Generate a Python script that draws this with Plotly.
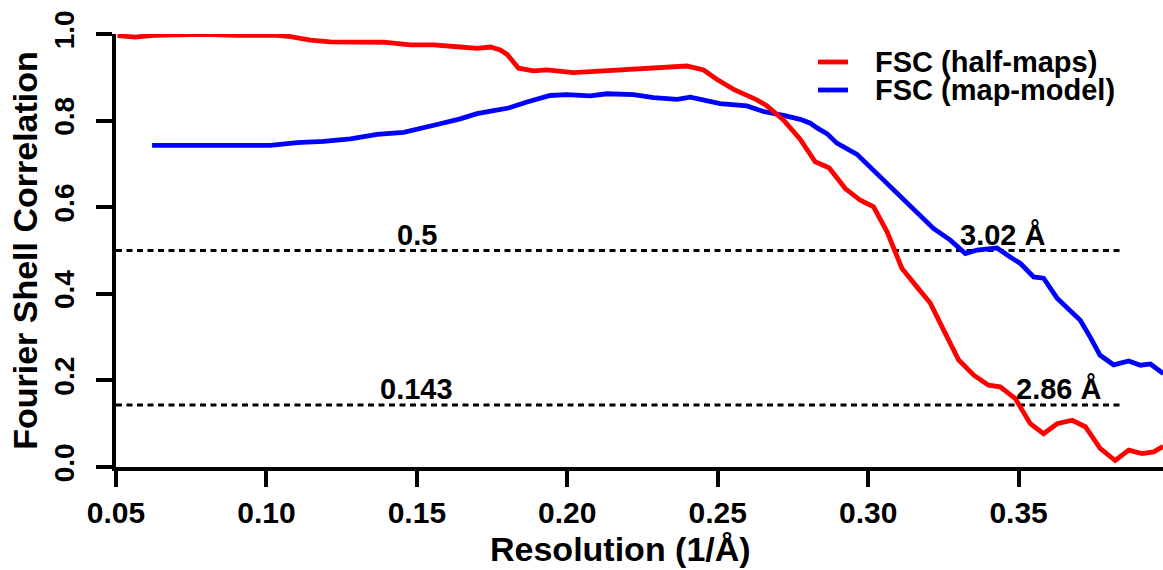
import plotly.graph_objects as go

# ---- data ----
half_x = [0.0505, 0.0564, 0.0625, 0.0700, 0.0791, 0.0902, 0.1035, 0.1080, 0.1146, 0.1212,
          0.1390, 0.1478, 0.1556, 0.1644, 0.1700, 0.1744, 0.1777, 0.1800, 0.1838, 0.1888,
          0.1932, 0.2021, 0.2110, 0.2220, 0.2320, 0.2398, 0.2453, 0.2498, 0.2553, 0.2630,
          0.2664, 0.2719, 0.2774, 0.2824, 0.2870, 0.2924, 0.2974, 0.3018, 0.3063, 0.3112,
          0.3162, 0.3207, 0.3251, 0.3301, 0.3351, 0.3400, 0.3439, 0.3489, 0.3539, 0.3583,
          0.3628, 0.3678, 0.3722, 0.3771, 0.3821, 0.3866, 0.3910, 0.3949, 0.3981]
half_y = [0.996, 0.993, 0.997, 0.998, 0.999, 0.997, 0.997, 0.994, 0.986, 0.982,
          0.981, 0.975, 0.975, 0.970, 0.967, 0.970, 0.963, 0.953, 0.921, 0.915,
          0.917, 0.911, 0.915, 0.919, 0.925, 0.926, 0.917, 0.895, 0.872, 0.848,
          0.834, 0.801, 0.757, 0.705, 0.691, 0.643, 0.616, 0.601, 0.543, 0.459,
          0.416, 0.378, 0.316, 0.247, 0.212, 0.189, 0.185, 0.158, 0.100, 0.077,
          0.100, 0.108, 0.093, 0.043, 0.015, 0.039, 0.031, 0.035, 0.048]

model_x = [0.0620, 0.0703, 0.0813, 0.1013, 0.1102, 0.1190, 0.1279, 0.1368, 0.1456, 0.1511,
           0.1567, 0.1644, 0.1700, 0.1755, 0.1805, 0.1866, 0.1910, 0.1943, 0.1999, 0.2076,
           0.2132, 0.2220, 0.2287, 0.2365, 0.2409, 0.2464, 0.2508, 0.2597, 0.2652, 0.2719,
           0.2774, 0.2808, 0.2830, 0.2863, 0.2896, 0.2963, 0.3029, 0.3096, 0.3162, 0.3217,
           0.3273, 0.3323, 0.3362, 0.3428, 0.3472, 0.3506, 0.3550, 0.3583, 0.3628, 0.3672,
           0.3705, 0.3738, 0.3771, 0.3816, 0.3866, 0.3905, 0.3938, 0.3981]
model_y = [0.743, 0.743, 0.741, 0.743, 0.749, 0.752, 0.758, 0.768, 0.773, 0.781,
           0.791, 0.804, 0.816, 0.823, 0.829, 0.843, 0.851, 0.858, 0.860, 0.857,
           0.862, 0.860, 0.853, 0.849, 0.854, 0.847, 0.839, 0.834, 0.821, 0.812,
           0.803, 0.794, 0.783, 0.770, 0.748, 0.722, 0.678, 0.632, 0.586, 0.551,
           0.524, 0.493, 0.501, 0.506, 0.485, 0.470, 0.439, 0.436, 0.390, 0.362,
           0.339, 0.300, 0.258, 0.236, 0.245, 0.235, 0.238, 0.216]

thresholds = [0.5, 0.143]
threshold_labels = ["0.5", "0.143"]
threshold_x_range = [0.05, 0.385]
threshold_label_x = 0.15
resolutions = [3.02, 2.86]          # Å, label placed at 1/resolution
resolution_labels = ["3.02 Å", "2.86 Å"]

x_ticks = [0.05, 0.10, 0.15, 0.20, 0.25, 0.30, 0.35]
y_ticks = [0.0, 0.2, 0.4, 0.6, 0.8, 1.0]
series_names = ["FSC (half-maps)", "FSC (map-model)"]
series_colors = ["#ff0000", "#0000ff"]
x_title = "Resolution (1/Å)"
y_title = "Fourier Shell Correlation"

FONT = "Liberation Sans, Arial, Helvetica, sans-serif"
def bfont(size):
    return dict(family=FONT, size=size, color="black", weight="bold")

fig = go.Figure()

for t in thresholds:
    fig.add_trace(go.Scatter(x=threshold_x_range, y=[t, t], mode="lines",
                             line=dict(color="black", width=3, dash="6px,4.5px"),
                             showlegend=False, hoverinfo="skip"))

fig.add_trace(go.Scatter(x=model_x, y=model_y, mode="lines", name=series_names[1],
                         line=dict(color=series_colors[1], width=4.8), showlegend=False))
fig.add_trace(go.Scatter(x=half_x, y=half_y, mode="lines", name=series_names[0],
                         line=dict(color=series_colors[0], width=4.8), showlegend=False))

annotations = []
for t, lab in zip(thresholds, threshold_labels):
    annotations.append(dict(x=threshold_label_x, y=t, xref="x", yref="y", text=lab,
                            showarrow=False, xanchor="center", yanchor="bottom",
                            yshift=-2, font=bfont(29)))
for t, r, lab in zip(thresholds, resolutions, resolution_labels):
    annotations.append(dict(x=1.0 / r, y=t, xref="x", yref="y", text=lab,
                            showarrow=False, xanchor="left", yanchor="bottom",
                            xshift=-4, yshift=-2, font=bfont(29)))

# pixel -> paper helpers
W, H = 1163, 570
ml, mr, mt, mb = 116, 0, 34, 103
pw, ph = W - ml - mr, H - mt - mb
def px(xp):
    return (xp - ml) / pw
def py(yp):
    return 1 - (yp - mt) / ph

# legend (drawn as sample lines + labels, R style)
shapes = []
leg_rows = [62, 90]
for name, col, yr in zip(series_names, series_colors, leg_rows):
    shapes.append(dict(type="line", xref="paper", yref="paper",
                       x0=px(818), x1=px(848), y0=py(yr), y1=py(yr),
                       line=dict(color=col, width=4.8)))
    annotations.append(dict(x=px(873), y=py(yr), xref="paper", yref="paper", text=name,
                            showarrow=False, xanchor="left", yanchor="middle",
                            font=bfont(29)))

# x-axis title (centred like the reference, slightly left of the plot centre)
annotations.append(dict(x=px(620), y=py(549), xref="paper", yref="paper", text=x_title,
                        showarrow=False, xanchor="center", yanchor="middle",
                        font=bfont(34)))

fig.update_layout(
    width=W, height=H,
    margin=dict(l=ml, r=mr, t=mt, b=mb, pad=0),
    paper_bgcolor="white", plot_bgcolor="white",
    font=dict(family=FONT, color="black"),
    showlegend=False,
    annotations=annotations,
    shapes=shapes,
    xaxis=dict(range=[0.05, 0.398], tickvals=x_ticks, tickformat=".2f",
               showgrid=False, zeroline=False, showline=True, linecolor="black",
               linewidth=4, ticks="outside", ticklen=16, tickwidth=4, tickcolor="black",
               tickfont=bfont(30), ticklabelstandoff=0),
    yaxis=dict(range=[0, 1], tickvals=y_ticks, tickformat=".1f", tickangle=-90,
               showgrid=False, zeroline=False, showline=True, linecolor="black",
               linewidth=4, ticks="outside", ticklen=16, tickwidth=4, tickcolor="black",
               tickfont=bfont(28), ticklabelstandoff=11,
               title=dict(text=y_title, standoff=2, font=bfont(34))),
)

fig.write_html("out.html", config={"displayModeBar": False},
               post_script="document.body.style.margin='0';")
